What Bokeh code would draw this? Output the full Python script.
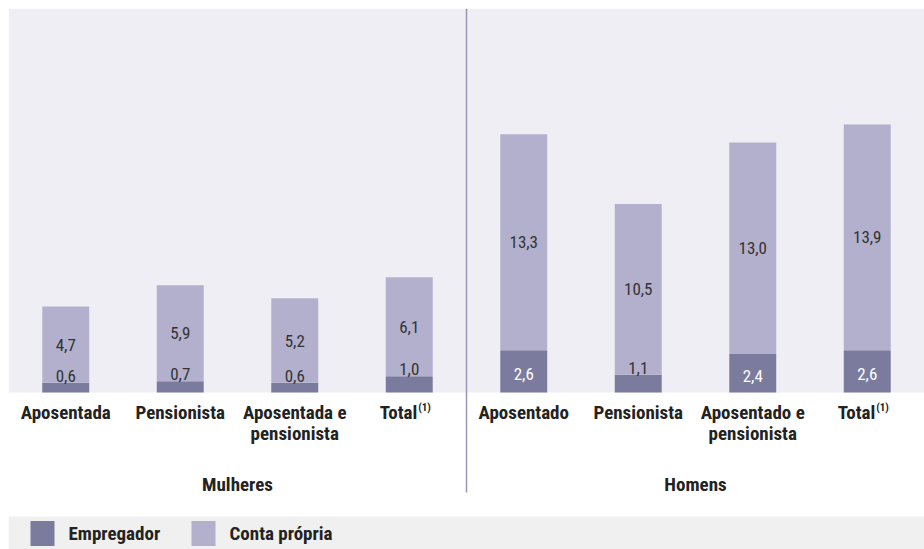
from bokeh.plotting import figure
from bokeh.models import ColumnDataSource, Range1d, BoxAnnotation
from bokeh.core.properties import value
from bokeh.embed import file_html
from bokeh.resources import INLINE

# ---- data ----
categories = ["Aposentada", "Pensionista", "Aposentada e\npensionista", "Total",
              "Aposentado", "Pensionista", "Aposentado e\npensionista", "Total"]
notes = ["", "", "", "(1)", "", "", "", "(1)"]
groups = ["Mulheres", "Homens"]
empregador = [0.6, 0.7, 0.6, 1.0, 2.6, 1.1, 2.4, 2.6]
conta_propria = [4.7, 5.9, 5.2, 6.1, 13.3, 10.5, 13.0, 13.9]
series_names = ["Empregador", "Conta própria"]

# ---- style ----
FONT = "Roboto Condensed"
C_EMP = "#7a7b9d"
C_CONTA = "#b2b0cc"
BG = "#efeef5"
LEG_BG = "#eff0ef"
TXT = "#222222"

M = 8                   # page margin reproduced inside the figure
W, H = 916, 541         # frame size
BASE_PX = 384           # baseline position from top of frame, px
S = 16.24               # px per unit
n = len(categories)

def below(px):
    """data y for a point px pixels below the baseline"""
    return -px / S

def xdata(px):
    return px / W * n

xs = [i + 0.5 for i in range(n)]
fmt = lambda v: f"{v:.1f}".replace(".", ",")

src = ColumnDataSource(dict(x=xs, emp=empregador, conta=conta_propria))

p = figure(width=W + M, height=H + M, output_backend="svg", toolbar_location=None,
           x_range=Range1d(0, n), y_range=Range1d(below(H - BASE_PX), BASE_PX / S),
           min_border_left=M, min_border_top=M, min_border_right=0, min_border_bottom=0,
           outline_line_color=None, background_fill_color="white",
           border_fill_color="white")
p.axis.visible = False
p.grid.visible = False

# plot-area background and legend band
p.add_layout(BoxAnnotation(bottom=0, fill_color=BG, fill_alpha=1, line_color=None, level="underlay"))
p.add_layout(BoxAnnotation(top=below(124), fill_color=LEG_BG, fill_alpha=1, line_color=None, level="underlay"))

# divider between groups
p.segment(x0=[n / 2], y0=[BASE_PX / S], x1=[n / 2], y1=[below(100)], line_color="#9896b4", line_width=1.5)

p.vbar_stack(["emp", "conta"], x="x", width=0.41, source=src, color=[C_EMP, C_CONTA], line_color=None)

VAL_FS = "17px"
# conta propria labels (middle of segment)
p.text(x=xs, y=[e + c / 2 for e, c in zip(empregador, conta_propria)], text=[fmt(v) for v in conta_propria],
       text_font=value(FONT), text_font_size=VAL_FS, text_color="#333333",
       text_align="center", text_baseline="middle")

# empregador labels: inside (white) if tall enough, else just above
inside = [e >= 2 for e in empregador]
xi = [x for x, f in zip(xs, inside) if f]
ei = [e for e, f in zip(empregador, inside) if f]
p.text(x=xi, y=[e / 2 for e in ei], text=[fmt(v) for v in ei],
       text_font=value(FONT), text_font_size=VAL_FS, text_color="white",
       text_align="center", text_baseline="middle", y_offset=3)
xo = [x for x, f in zip(xs, inside) if not f]
eo = [e for e, f in zip(empregador, inside) if not f]
p.text(x=xo, y=eo, text=[fmt(v) for v in eo],
       text_font=value(FONT), text_font_size=VAL_FS, text_color="#333333",
       text_align="center", text_baseline="middle", y_offset=-7)

LAB_FS = "19px"
# category labels
plain = [i for i in range(n) if not notes[i]]
p.text(x=[xs[i] for i in plain], y=[0] * len(plain), text=[categories[i] for i in plain],
       text_font=value(FONT), text_font_style="bold", text_font_size=LAB_FS, text_color=TXT,
       text_align="center", text_baseline="top", y_offset=8, text_line_height=0.92)
noted = [i for i in range(n) if notes[i]]
p.text(x=[xs[i] for i in noted], y=[0] * len(noted), text=[categories[i] for i in noted],
       text_font=value(FONT), text_font_style="bold", text_font_size=LAB_FS, text_color=TXT,
       text_align="right", text_baseline="top", y_offset=8, x_offset=8)
p.text(x=[xs[i] for i in noted], y=[0] * len(noted), text=[notes[i] for i in noted],
       text_font=value(FONT), text_font_style="bold", text_font_size="11px", text_color=TXT,
       text_align="left", text_baseline="top", y_offset=8, x_offset=9)

# group labels
p.text(x=[n / 4, 3 * n / 4], y=[0, 0], text=groups,
       text_font=value(FONT), text_font_style="bold", text_font_size=LAB_FS, text_color=TXT,
       text_align="center", text_baseline="middle", y_offset=92)

# legend
leg_y = below(141)
p.rect(x=[xdata(34), xdata(195)], y=[leg_y, leg_y], width=24, height=25,
       width_units="screen", height_units="screen", color=[C_EMP, C_CONTA], line_color=None)
p.text(x=[xdata(60), xdata(221)], y=[leg_y, leg_y], text=series_names,
       text_font=value(FONT), text_font_style="bold", text_font_size=LAB_FS, text_color=TXT,
       text_align="left", text_baseline="middle")

open("out.html", "w").write(file_html(p, INLINE))
